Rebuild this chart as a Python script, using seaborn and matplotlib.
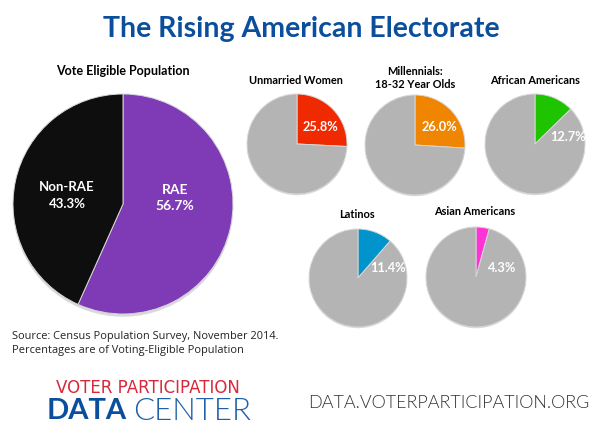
import matplotlib
matplotlib.use('Agg')
import matplotlib.pyplot as plt
from matplotlib.patches import Circle
import seaborn as sns

# Data
main_labels = ['RAE', 'Non-RAE']
main_values = [56.7, 43.3]
main_colors = ['#7f3bb5', '#0e0e0e']

group_names = ['Unmarried Women', 'Millennials:\n18-32 Year Olds', 'African Americans', 'Latinos', 'Asian Americans']
group_values = [25.8, 26.0, 12.7, 11.4, 4.3]
group_colors = ['#f02a00', '#ef8500', '#1fc400', '#0093cc', '#ff33d6']

W, H = 600, 432
GREY = '#b4b4b4'

sns.set_theme(style='white')
plt.rcParams['font.family'] = ['Lato', 'DejaVu Sans']

fig = plt.figure(figsize=(W / 100, H / 100), dpi=100, facecolor='white')


def draw_pie(cx, cy, r, values, colors):
    # cx, cy, r in pixels from the top left corner
    ax = fig.add_axes([(cx - r * 1.05) / W, 1 - (cy + r * 1.05) / H, 2.1 * r / W, 2.1 * r / H])
    ax.add_patch(Circle((0.0, -0.025), 1.0, color='#dadada', lw=0))
    ax.pie(values, colors=colors, startangle=90, counterclock=False, radius=1,
           wedgeprops={'edgecolor': '#d6d6d6', 'linewidth': 0.7})
    ax.set_xlim(-1.05, 1.05)
    ax.set_ylim(-1.05, 1.05)
    ax.axis('off')


def px_text(x, y, s, **kw):
    fig.text(x / W, 1 - y / H, s, **kw)


# Title
px_text(301, 29, 'The Rising American Electorate', color='#0b4f9c', fontsize=20.5, fontweight='bold',
        ha='center', va='center')

# Main pie
draw_pie(123, 204, 110, main_values, main_colors)
px_text(123, 71, 'Vote Eligible Population', color='black', fontsize=9, fontweight='bold', ha='center', va='center')
px_text(175, 190, f'{main_labels[0]}', color='white', fontsize=10, fontweight='bold', ha='center', va='center')
px_text(175, 206, f'{main_values[0]}%', color='white', fontsize=10, fontweight='bold', ha='center', va='center')
px_text(67, 187, f'{main_labels[1]}', color='white', fontsize=9.5, fontweight='bold', ha='center', va='center')
px_text(67, 204, f'{main_values[1]}%', color='white', fontsize=9.5, fontweight='bold', ha='center', va='center')

# Small pies
centers = [(297, 144), (415, 145), (535, 144), (358, 278), (476, 277)]
radii = [50, 50, 50, 49, 50]
name_pos = [(296, 81), (415, 78), (535, 80), (357, 214), (475, 212)]
value_pos = [(320, 127), (439, 127), (568, 137), (388, 268), (502, 268)]

for i in range(len(group_names)):
    cx, cy = centers[i]
    draw_pie(cx, cy, radii[i], [group_values[i], 100 - group_values[i]], [group_colors[i], GREY])
    px_text(name_pos[i][0], name_pos[i][1], group_names[i], color='black', fontsize=7.9, fontweight='bold',
            ha='center', va='center', linespacing=1.15)
    px_text(value_pos[i][0], value_pos[i][1], f'{group_values[i]}%', color='white', fontsize=9.2, fontweight='bold',
            ha='center', va='center')

# Source note
px_text(12, 337, 'Source: Census Population Survey, November 2014.', color='#222222', fontsize=7.9, family='Open Sans',
        ha='left', va='center')
px_text(12, 350, 'Percentages are of Voting-Eligible Population', color='#222222', fontsize=7.9, family='Open Sans',
        ha='left', va='center')

# Footer logo and url
px_text(148, 388, 'VOTER PARTICIPATION', color='#d8283c', fontsize=12, family='DejaVu Sans', ha='center', va='center')
px_text(47, 411, 'DATA', color='#0b4f9c', fontsize=21, fontweight='bold', ha='left', va='center')
px_text(133, 411, 'CENTER', color='#1f5fa8', fontsize=22.5, fontweight=300, ha='left', va='center')
px_text(449, 403, 'DATA.VOTERPARTICIPATION.ORG', color='#333333', fontsize=13, fontweight=300, ha='center', va='center')

fig.savefig('out.png', dpi=100)
